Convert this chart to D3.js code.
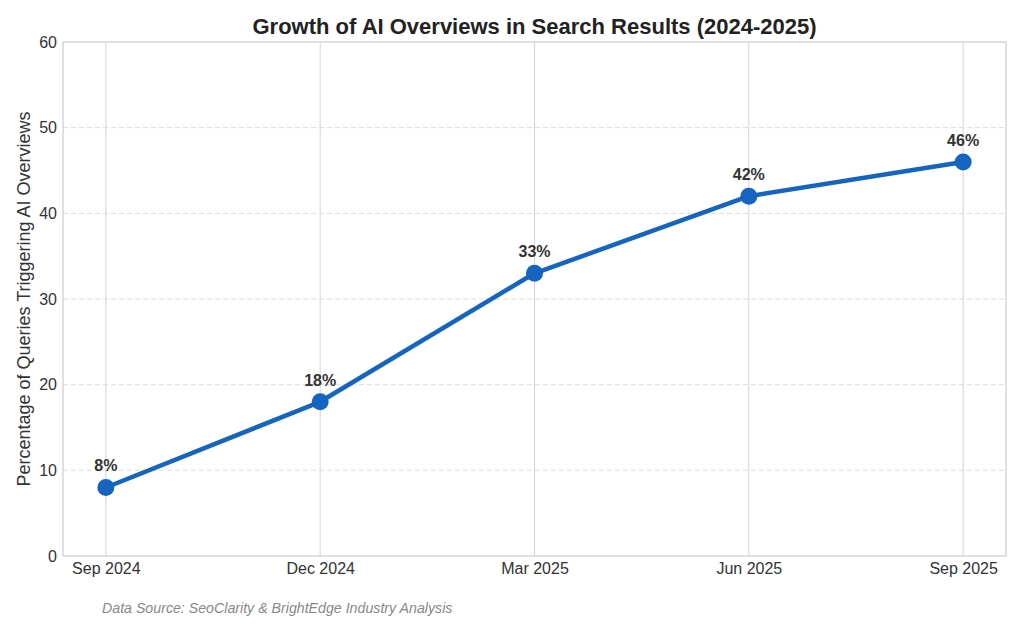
<!DOCTYPE html>
<html>
<head>
<meta charset="utf-8">
<script src="https://cdn.jsdelivr.net/npm/d3@7/dist/d3.min.js"></script>
<style>
  body { margin: 0; background: #fff; }
  text { font-family: "Liberation Sans", Arial, sans-serif; }
</style>
</head>
<body>
<script>
var categories = ["Sep 2024", "Dec 2024", "Mar 2025", "Jun 2025", "Sep 2025"];
var values = [8, 18, 33, 42, 46];
var yTicks = [0, 10, 20, 30, 40, 50, 60];

var w = 1024, h = 626;
var margin = {top: 42, right: 18, bottom: 70, left: 63};
var iw = w - margin.left - margin.right,
    ih = h - margin.top - margin.bottom;

var svg = d3.select("body").append("svg")
  .attr("width", w)
  .attr("height", h);

var g = svg.append("g")
  .attr("transform", "translate(" + margin.left + "," + margin.top + ")");

var x = d3.scalePoint().domain(categories).range([0, iw]).padding(0.2);
var y = d3.scaleLinear().domain([0, 60]).range([ih, 0]);

// grid
g.selectAll(".hgrid").data(yTicks.slice(1, -1)).enter().append("line")
  .attr("x1", 0).attr("x2", iw)
  .attr("y1", function(d) { return y(d); })
  .attr("y2", function(d) { return y(d); })
  .attr("stroke", "#dcdcdc").attr("stroke-dasharray", "5,3");

g.selectAll(".vgrid").data(categories).enter().append("line")
  .attr("x1", function(d) { return x(d); })
  .attr("x2", function(d) { return x(d); })
  .attr("y1", 0).attr("y2", ih)
  .attr("stroke", "#d4d4d4");

// frame
g.append("rect")
  .attr("width", iw).attr("height", ih)
  .attr("fill", "none").attr("stroke", "#cccccc").attr("stroke-width", 1.2);

// axes
var yAxis = g.append("g").call(d3.axisLeft(y).tickValues(yTicks).tickSize(0).tickPadding(6));
var xAxis = g.append("g").attr("transform", "translate(0," + ih + ")")
  .call(d3.axisBottom(x).tickSize(0).tickPadding(7));
[yAxis, xAxis].forEach(function(a) {
  a.select(".domain").remove();
  a.selectAll("text").attr("font-size", 16).attr("fill", "#333")
    .attr("font-family", "Liberation Sans, Arial, sans-serif");
});

// line
var line = d3.line()
  .x(function(d, i) { return x(categories[i]); })
  .y(function(d) { return y(d); });

g.append("path").datum(values)
  .attr("d", line)
  .attr("fill", "none")
  .attr("stroke", "#1565c0")
  .attr("stroke-width", 4.5)
  .attr("stroke-linejoin", "round");

g.selectAll(".dot").data(values).enter().append("circle")
  .attr("cx", function(d, i) { return x(categories[i]); })
  .attr("cy", function(d) { return y(d); })
  .attr("r", 8.5)
  .attr("fill", "#1565c0");

g.selectAll(".lbl").data(values).enter().append("text")
  .attr("x", function(d, i) { return x(categories[i]); })
  .attr("y", function(d) { return y(d) - 16; })
  .attr("text-anchor", "middle")
  .attr("font-size", 16).attr("font-weight", "bold").attr("fill", "#333")
  .text(function(d) { return d + "%"; });

// title & labels
svg.append("text")
  .attr("x", margin.left + iw / 2).attr("y", 34)
  .attr("text-anchor", "middle")
  .attr("font-size", 22).attr("font-weight", "bold").attr("fill", "#222")
  .text("Growth of AI Overviews in Search Results (2024-2025)");

svg.append("text")
  .attr("transform", "translate(30," + (margin.top + ih / 2) + ") rotate(-90)")
  .attr("text-anchor", "middle")
  .attr("font-size", 18).attr("fill", "#333")
  .text("Percentage of Queries Triggering AI Overviews");

svg.append("text")
  .attr("x", 102).attr("y", 613)
  .attr("font-size", 14.2).attr("font-style", "italic").attr("fill", "#888")
  .text("Data Source: SeoClarity & BrightEdge Industry Analysis");
</script>
</body>
</html>
